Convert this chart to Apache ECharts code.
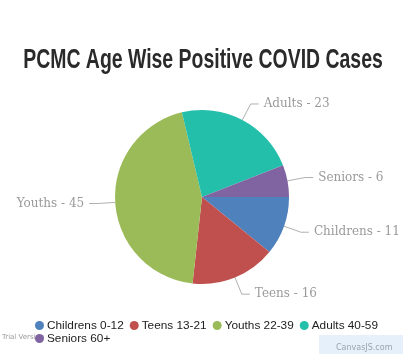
<!DOCTYPE html>
<html>
<head>
<meta charset="utf-8">
<script src="https://cdn.jsdelivr.net/npm/echarts@6/dist/echarts.min.js"></script>
<style>
  html, body { margin: 0; padding: 0; background: #fff; }
  #chart { width: 414px; height: 354px; }
</style>
</head>
<body>
<div id="chart"></div>
<script>
  var legendNames = ['Childrens 0-12', 'Teens 13-21', 'Youths 22-39', 'Adults 40-59', 'Seniors 60+'];
  var labelNames = ['Childrens', 'Teens', 'Youths', 'Adults', 'Seniors'];
  var cases = [11, 16, 45, 23, 6];
  var colors = ['#4F81BC', '#C0504E', '#9BBB58', '#23BFAA', '#8064A1'];
  var titleText = 'PCMC Age Wise Positive COVID Cases';

  var pieData = [];
  for (var i = 0; i < cases.length; i++) {
    pieData.push({ name: legendNames[i], value: cases[i], shortName: labelNames[i] });
  }

  var chart = echarts.init(document.getElementById('chart'));
  chart.setOption({
    animation: false,
    color: colors,
    legend: {
      left: 35,
      top: 319,
      width: 352,
      itemGap: 0,
      itemWidth: 9,
      itemHeight: 9,
      icon: 'circle',
      itemStyle: { borderWidth: 0 },
      textStyle: {
        fontFamily: 'Liberation Sans',
        fontSize: 11.8,
        lineHeight: 13,
        color: '#222',
        padding: [0, 6, 0, -2]
      },
      padding: 0
    },
    series: [{
      type: 'pie',
      center: [202, 197],
      radius: 87,
      startAngle: 0,
      clockwise: true,
      data: pieData,
      itemStyle: { borderWidth: 0 },
      label: {
        show: true,
        overflow: 'none',
        formatter: function (p) { return p.data.shortName + ' - ' + p.value; },
        fontFamily: 'DejaVu Serif',
        fontSize: 12,
        color: '#9a9a9a'
      },
      labelLine: {
        length: 18,
        length2: 8,
        lineStyle: { color: '#b0b0b0', width: 1 }
      }
    }],
    graphic: [
      {
        // condensed bold title, squeezed horizontally
        type: 'text',
        x: 203,
        y: 61,
        scaleX: 0.72,
        style: {
          text: titleText,
          fill: '#2a2a2a',
          font: 'bold 27px "Liberation Sans"',
          align: 'center',
          verticalAlign: 'middle'
        }
      },
      {
        type: 'text',
        left: 2,
        top: 334,
        style: { text: 'Trial Version', fill: '#9a9a9a', font: '7px DejaVu Sans' }
      },
      {
        type: 'rect',
        left: 319,
        top: 335,
        shape: { width: 84, height: 20 },
        style: { fill: '#e6f0fb' }
      },
      {
        type: 'text',
        left: 336,
        top: 344,
        style: { text: 'CanvasJS.com', fill: '#9aa4ae', font: '8px DejaVu Sans' }
      }
    ]
  });
</script>
</body>
</html>
